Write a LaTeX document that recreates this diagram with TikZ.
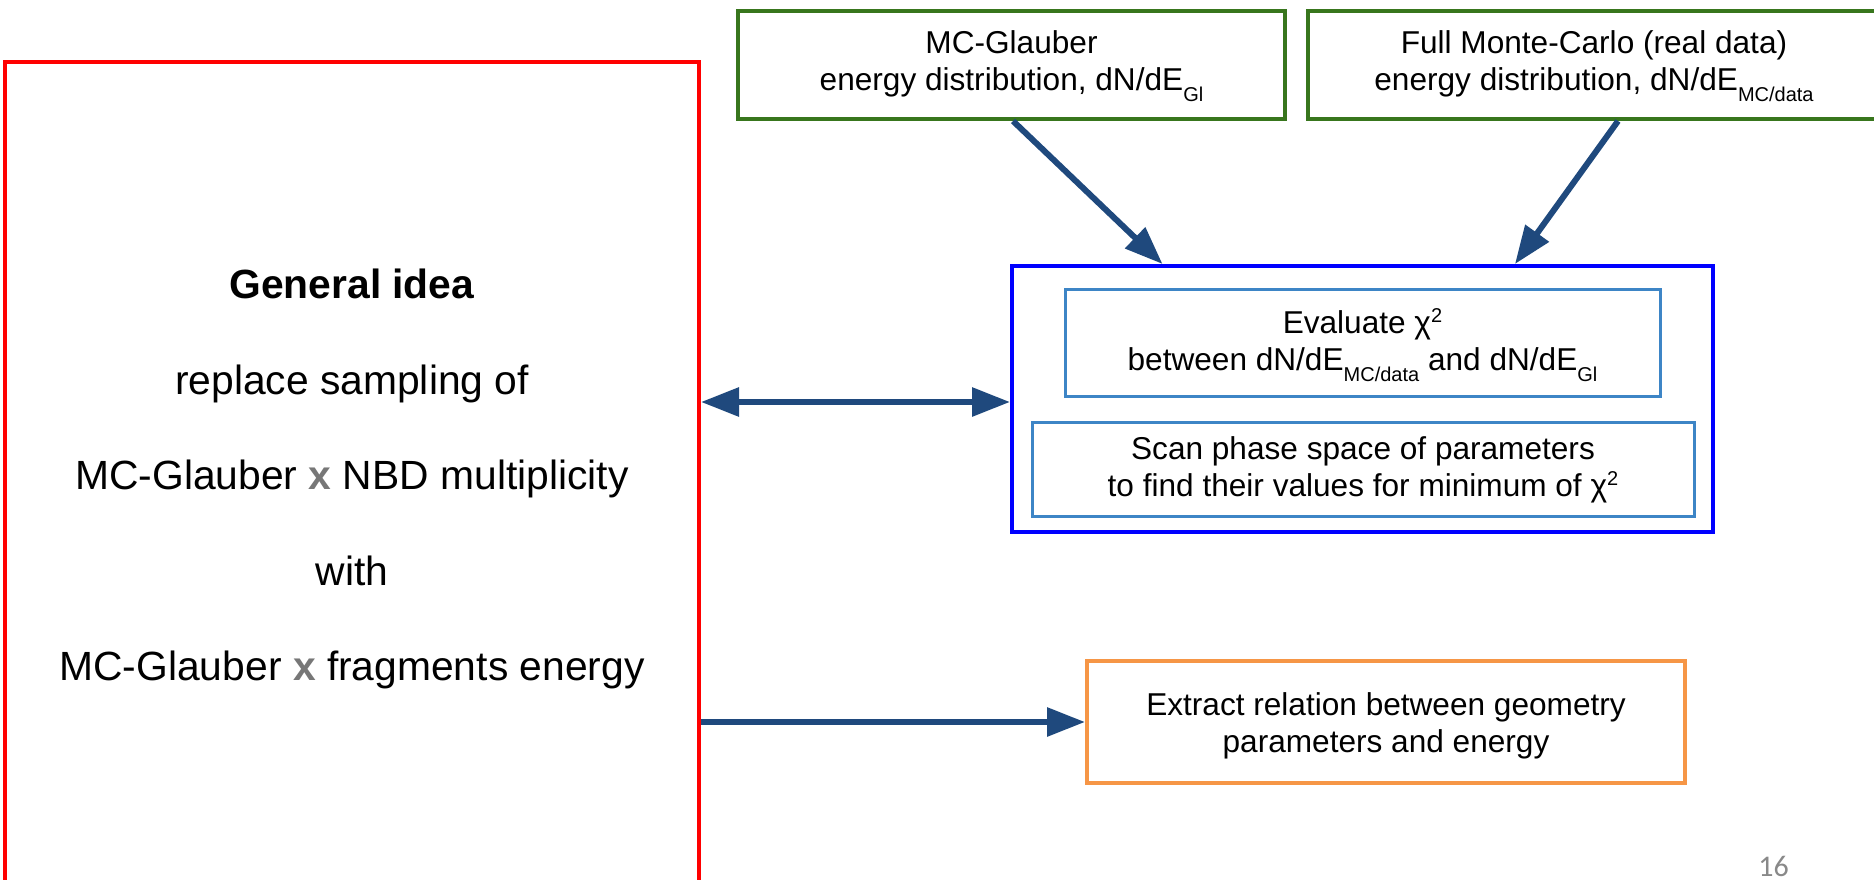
\documentclass[tikz,border=0pt]{standalone}
\usepackage{fontspec}
\setmainfont{Liberation Sans}
\newfontfamily\calib{Carlito}
\usetikzlibrary{arrows.meta,calc}
\definecolor{gboxc}{RGB}{56,118,29}
\definecolor{bboxc}{RGB}{0,0,255}
\definecolor{iboxc}{RGB}{61,133,198}
\definecolor{oboxc}{RGB}{246,150,70}
\definecolor{rboxc}{RGB}{255,0,0}
\definecolor{arrc}{RGB}{31,73,125}
\definecolor{xg}{RGB}{119,119,119}
\definecolor{pg}{RGB}{137,137,137}
\newcommand\subsc[1]{\raisebox{-11pt}{\fontsize{20}{20}\selectfont #1}}
\newcommand\supsc[1]{\raisebox{11pt}{\fontsize{20}{20}\selectfont #1}}
\begin{document}
\begin{tikzpicture}[x=1pt,y=-1pt,
  frame/.style={draw, rectangle, inner sep=0pt},
  greenbox/.style={frame, draw=gboxc, line width=4pt},
  innerbox/.style={frame, draw=iboxc, line width=3pt},
  outerbox/.style={frame, draw=bboxc, line width=4pt},
  orangebox/.style={frame, draw=oboxc, line width=4pt},
  redbox/.style={frame, draw=rboxc, line width=4pt},
  boxtext/.style={inner sep=0pt, align=center, font=\fontsize{31.6}{37}\selectfont},
  bigtext/.style={inner sep=0pt, align=center, font=\fontsize{40.8}{95.5}\selectfont},
  arr/.style={draw=arrc, line width=6pt, -{Triangle[length=38pt,width=28pt]}},
  dblarr/.style={draw=arrc, line width=6pt, {Triangle[length=38pt,width=28pt]}-{Triangle[length=38pt,width=28pt]}}
]
\useasboundingbox (0,0) rectangle (1874,880);
\clip (0,0) rectangle (1874,880);

% boxes
\node[redbox, minimum width=694pt, minimum height=822pt] (red) at (352,473) {};
\node[greenbox, minimum width=547pt, minimum height=108pt] (g1) at (1011.5,65) {};
\node[greenbox, minimum width=572pt, minimum height=108pt] (g2) at (1594,65) {};
\node[outerbox, minimum width=701pt, minimum height=266pt] (blue) at (1362.5,399) {};
\node[innerbox, minimum width=595pt, minimum height=107pt] (in1) at (1362.5,342.5) {};
\node[innerbox, minimum width=662pt, minimum height=94pt] (in2) at (1363,469) {};
\node[orangebox, minimum width=598pt, minimum height=122pt] (orange) at (1386,722) {};

% texts
\node[bigtext] (redt) at ($(red.center)+(0,6)$)
  {\textbf{General idea}\\replace sampling of\\MC-Glauber \textbf{\textcolor{xg}{x}} NBD multiplicity\\with\\MC-Glauber \textbf{\textcolor{xg}{x}} fragments energy};
\node[boxtext] (g1t) at ($(g1.center)+(0,1)$)
  {MC-Glauber\\energy distribution, dN/dE\subsc{Gl}};
\node[boxtext] (g2t) at ($(g2.center)+(0,1)$)
  {Full Monte-Carlo (real data)\\energy distribution, dN/dE\subsc{MC/data}};
\node[boxtext] (in1t) at ($(in1.center)+(0,3)$)
  {Evaluate χ\supsc{2}\\between dN/dE\subsc{MC/data} and dN/dE\subsc{Gl}};
\node[boxtext] (in2t) at ($(in2.center)+(0,0.5)$)
  {Scan phase space of parameters\\to find their values for minimum of χ\supsc{2}};
\node[boxtext] (orat) at ($(orange.center)+(0,3.5)$)
  {Extract relation between geometry\\parameters and energy};

\node[anchor=base, text=pg, font=\calib\fontsize{30}{30}\selectfont, inner sep=0pt] (pnum) at (1773.5,876) {16};

% connectors
\draw[arr] ($(g1.south)+(1.5,0)$) -- ($(blue.north)+(-200,0)$);
\draw[arr] ($(g2.south)+(24,0)$) -- ($(blue.north)+(152.5,0)$);
\draw[dblarr] ($(red.east |- blue.west)+(0,3)$) -- ($(blue.west)+(0,3)$);
\draw[arr] (red.east |- orange.west) -- (orange.west);
\end{tikzpicture}
\end{document}
